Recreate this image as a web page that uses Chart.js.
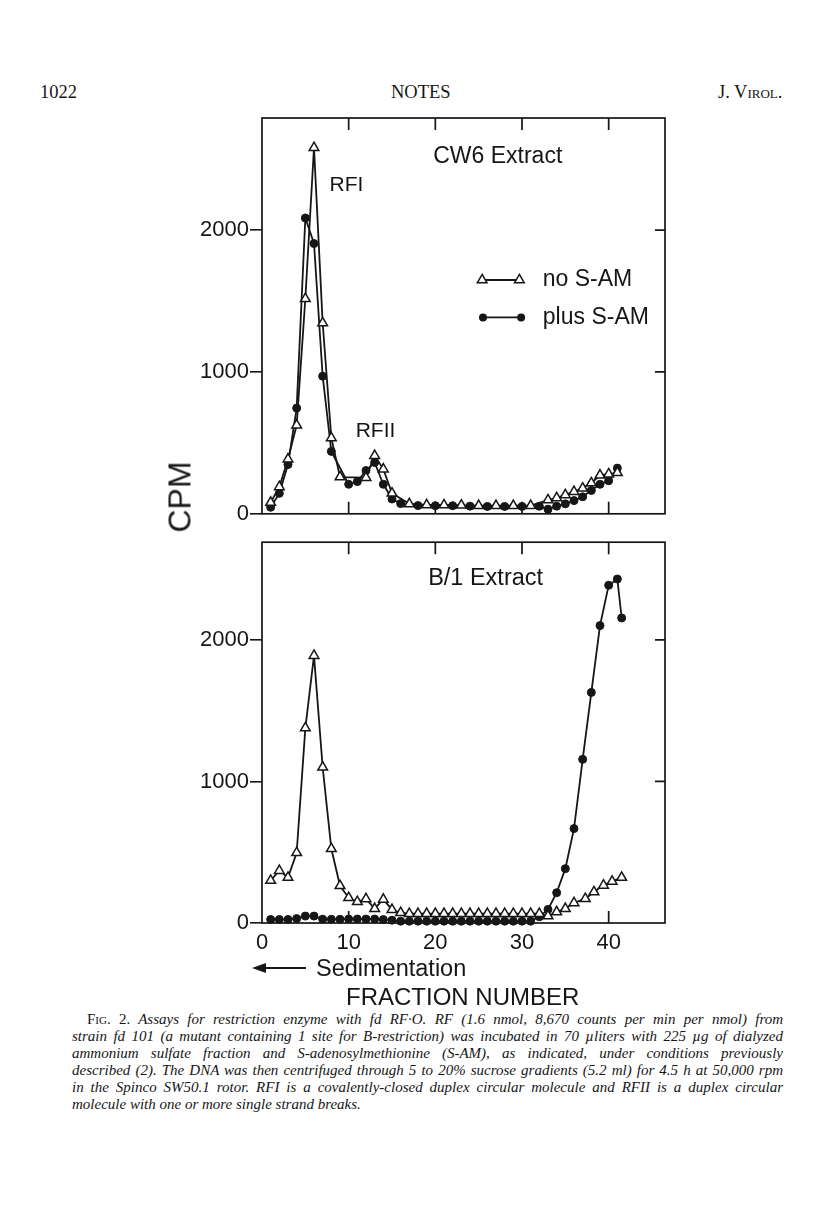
<!DOCTYPE html>
<html>
<head>
<meta charset="utf-8">
<script src="https://cdn.jsdelivr.net/npm/chart.js@4.4.1/dist/chart.umd.min.js"></script>
<style>
  body { margin:0; background:#fff; width:816px; height:1214px; position:relative; overflow:hidden;
         font-family:"Liberation Sans", Arial, sans-serif; color:#161616; }
  canvas { position:absolute; left:0; }
  .t { position:absolute; white-space:nowrap; }
  .hd { font-family:"Liberation Serif", serif; font-size:18.5px; top:82px; }
  .cap { position:absolute; white-space:nowrap; font-family:"Liberation Serif", serif; font-style:italic;
         font-size:15px; line-height:17px; }
  .sc { font-style:normal; font-variant:small-caps; }
</style>
</head>
<body>
<div class="t hd" style="left:40px">1022</div>
<div class="t hd" style="left:391px">NOTES</div>
<div class="t hd" style="left:718px">J. V<span style="font-variant:small-caps">irol.</span></div>

<canvas id="cw6" width="816" height="528" style="top:0"></canvas>
<canvas id="b1" width="816" height="440" style="top:528px"></canvas>

<div class="t" style="left:180px; top:497px; font-size:32px; transform:translate(-50%,-50%) rotate(-90deg)">CPM</div>

<svg style="position:absolute; left:250px; top:958px" width="60" height="20">
  <line x1="6" y1="10" x2="56" y2="10" stroke="#161616" stroke-width="2"/>
  <polygon points="2,10 16,5 16,15" fill="#161616"/>
</svg>
<div class="t" style="left:316px; top:955px; font-size:23.5px">Sedimentation</div>
<div class="t" style="left:346px; top:983px; font-size:24px">FRACTION NUMBER</div>

<div class="cap" data-w="696" style="left:87px; top:1011px"><span class="sc">Fig.</span> <span style="font-style:normal">2.</span> Assays for restriction enzyme with fd RF·O. RF (1.6 nmol, 8,670 counts per min per nmol) from</div>
<div class="cap" data-w="711" style="left:72px; top:1028px">strain fd 101 (a mutant containing 1 site for B-restriction) was incubated in 70 µliters with 225 µg of dialyzed</div>
<div class="cap" data-w="711" style="left:72px; top:1045px">ammonium sulfate fraction and S-adenosylmethionine (S-AM), as indicated, under conditions previously</div>
<div class="cap" data-w="711" style="left:72px; top:1062px">described (2). The DNA was then centrifuged through 5 to 20% sucrose gradients (5.2 ml) for 4.5 h at 50,000 rpm</div>
<div class="cap" data-w="711" style="left:72px; top:1079px">in the Spinco SW50.1 rotor. RFI is a covalently-closed duplex circular molecule and RFII is a duplex circular</div>
<div class="cap" style="left:72px; top:1096px">molecule with one or more single strand breaks.</div>

<script>
const ink = '#161616';

// tick values
const fractionTicks = [0, 10, 20, 30, 40];
const cpmTicks = [0, 1000, 2000];

// CW6 extract panel (fractions 1-41); null = point not drawn
const cw6Fraction = [1,2,3,4,5,6,7,8,9,10,11,12,13,14,15,16,17,18,19,20,21,22,23,24,25,26,27,28,29,30,31,32,33,34,35,36,37,38,39,40,41];
const cw6NoSam = [80,190,385,625,1516,2580,1345,535,259,null,null,255,410,315,145,null,70,null,63,null,62,null,60,null,57,null,57,null,57,null,57,null,97,112,133,156,180,217,272,280,289];
const cw6PlusSam = [46,144,347,745,2085,1905,970,440,null,208,227,305,362,208,104,72,null,58,null,57,null,57,null,54,null,52,null,52,null,52,null,53,32,54,70,93,120,165,208,233,322];

// B/1 extract panel
const b1NoSamFraction = [1,2,3,4,5,6,7,8,9,10,11,12,13,14,15,16,17,18,19,20,21,22,23,24,25,26,27,28,29,30,31,32,33,34,35,36,37.3,38.3,39.4,40.4,41.5];
const b1NoSam = [300,370,321,496,1377,1889,1100,524,263,178,150,170,101,167,94,72,66,66,66,66,66,66,66,66,66,66,66,66,66,66,66,66,49,78,101,142,171,219,266,294,321];
const b1PlusSamFraction = [1,2,3,4,5,6,7,8,9,10,11,12,13,14,15,16,17,18,19,20,21,22,23,24,25,26,27,28,29,30,31,32,33,34,35,36,37,38,39,40,41,41.5];
const b1PlusSam = [25,25,25,31,49,49,27,26,26,28,28,28,28,24,20,13,13,13,13,13,13,13,13,13,13,13,13,13,13,13,13,44,96,214,384,667,1156,1629,2101,2386,2430,2155];

Chart.defaults.font.family = '"Liberation Sans", Arial, sans-serif';
Chart.defaults.color = ink;

const pts = (xs, ys) => xs.map((x, i) => ({ x: x, y: ys[i] }));

const triangleSet = (xs, ys) => ({
  label: 'no S-AM', data: pts(xs, ys), borderColor: ink, borderWidth: 1.8,
  pointStyle: 'triangle', pointRadius: 5.6, pointBackgroundColor: '#fff',
  pointBorderColor: ink, pointBorderWidth: 1.5, spanGaps: true, tension: 0, clip: false
});
const dotSet = (xs, ys) => ({
  label: 'plus S-AM', data: pts(xs, ys), borderColor: ink, borderWidth: 1.8,
  pointStyle: 'circle', pointRadius: 4, pointBackgroundColor: ink,
  pointBorderColor: ink, pointBorderWidth: 1, spanGaps: true, tension: 0, clip: false
});

function drawMarker(ctx, style, x, y) {
  ctx.beginPath();
  if (style === 'triangle') {
    const r = 5.6;
    ctx.moveTo(x, y - r);
    ctx.lineTo(x + r * 0.866, y + r * 0.5);
    ctx.lineTo(x - r * 0.866, y + r * 0.5);
    ctx.closePath();
    ctx.fillStyle = '#fff'; ctx.fill();
    ctx.lineWidth = 1.5; ctx.strokeStyle = ink; ctx.stroke();
  } else {
    ctx.arc(x, y, 4, 0, Math.PI * 2);
    ctx.fillStyle = ink; ctx.fill();
  }
}

// frame, inward ticks, panel texts and legend
const panelDeco = {
  id: 'panelDeco',
  beforeDatasetsDraw(chart) {
    const { ctx, chartArea: a, scales: { x, y } } = chart;
    ctx.save();
    ctx.strokeStyle = ink;
    ctx.lineWidth = 1.7;
    ctx.strokeRect(a.left, a.top, a.right - a.left, a.bottom - a.top);
    ctx.beginPath();
    fractionTicks.forEach(v => {
      if (v === 0) return;
      const px = x.getPixelForValue(v);
      ctx.moveTo(px, a.top); ctx.lineTo(px, a.top + 12);
      ctx.moveTo(px, a.bottom); ctx.lineTo(px, a.bottom - 12);
    });
    cpmTicks.forEach(v => {
      if (v === 0) return;
      const py = y.getPixelForValue(v);
      ctx.moveTo(a.right, py); ctx.lineTo(a.right - 10, py);
    });
    ctx.stroke();
    ctx.restore();
  },
  afterDraw(chart, args, opts) {
    const { ctx, scales: { x, y } } = chart;
    ctx.save();
    ctx.fillStyle = ink;
    ctx.textBaseline = 'middle';
    (opts.texts || []).forEach(t => {
      ctx.font = t.size + 'px "Liberation Sans"';
      ctx.textAlign = 'center';
      ctx.fillStyle = ink;
      ctx.fillText(t.text, x.getPixelForValue(t.x), y.getPixelForValue(t.y));
    });
    (opts.legend || []).forEach(l => {
      const x1 = x.getPixelForValue(l.x1), x2 = x.getPixelForValue(l.x2), py = y.getPixelForValue(l.y);
      ctx.beginPath();
      ctx.moveTo(x1, py); ctx.lineTo(x2, py);
      ctx.lineWidth = 1.8; ctx.strokeStyle = ink; ctx.stroke();
      drawMarker(ctx, l.style, x1, py);
      drawMarker(ctx, l.style, x2, py);
      ctx.font = '23px "Liberation Sans"';
      ctx.textAlign = 'left';
      ctx.fillStyle = ink;
      ctx.fillText(l.text, x.getPixelForValue(l.tx), py);
    });
    ctx.restore();
  }
};

function panel(canvasId, datasets, yMax, pad, xHeight, showXLabels, deco) {
  return new Chart(document.getElementById(canvasId), {
    type: 'line',
    data: { datasets: datasets },
    plugins: [panelDeco],
    options: {
      responsive: false, animation: false, devicePixelRatio: 1,
      layout: { padding: { top: pad, right: 151, left: 0, bottom: 0 } },
      plugins: { legend: { display: false }, tooltip: { enabled: false }, panelDeco: deco },
      scales: {
        x: {
          type: 'linear', min: 0, max: 46.5,
          afterBuildTicks: s => { s.ticks = fractionTicks.map(v => ({ value: v })); },
          afterFit: s => { s.height = xHeight; },
          grid: { display: false, drawTicks: false },
          border: { display: false },
          ticks: { display: showXLabels, font: { size: 22 }, color: ink, padding: 7, maxRotation: 0,
                   callback: v => String(v) }
        },
        y: {
          type: 'linear', min: 0, max: yMax,
          afterBuildTicks: s => { s.ticks = cpmTicks.map(v => ({ value: v })); },
          afterFit: s => { s.width = 262; },
          grid: { drawOnChartArea: false, drawTicks: true, tickLength: 12, color: ink, lineWidth: 1.6 },
          border: { display: false },
          ticks: { font: { size: 22 }, color: ink, padding: 1, callback: v => String(v) }
        }
      }
    }
  });
}

panel('cw6', [triangleSet(cw6Fraction, cw6NoSam), dotSet(cw6Fraction, cw6PlusSam)], 2790, 118, 8, false, {
  texts: [
    { text: 'CW6 Extract', x: 27.2, y: 2521, size: 23 },
    { text: 'RFI', x: 9.75, y: 2319, size: 21 },
    { text: 'RFII', x: 13.1, y: 583, size: 21 }
  ],
  legend: [
    { text: 'no S-AM', style: 'triangle', x1: 25.4, x2: 29.7, y: 1648, tx: 32.4 },
    { text: 'plus S-AM', style: 'circle', x1: 25.5, x2: 29.9, y: 1384, tx: 32.4 }
  ]
});

panel('b1', [triangleSet(b1NoSamFraction, b1NoSam), dotSet(b1PlusSamFraction, b1PlusSam)], 2690, 7, 45, true, {
  texts: [ { text: 'B/1 Extract', x: 25.8, y: 2434, size: 23.5 } ]
});

// justify caption lines to the column width
document.querySelectorAll('.cap[data-w]').forEach(el => {
  const target = +el.dataset.w;
  const w = el.getBoundingClientRect().width;
  const spaces = (el.textContent.match(/ /g) || []).length;
  el.style.wordSpacing = ((target - w) / spaces) + 'px';
});
</script>
</body>
</html>
